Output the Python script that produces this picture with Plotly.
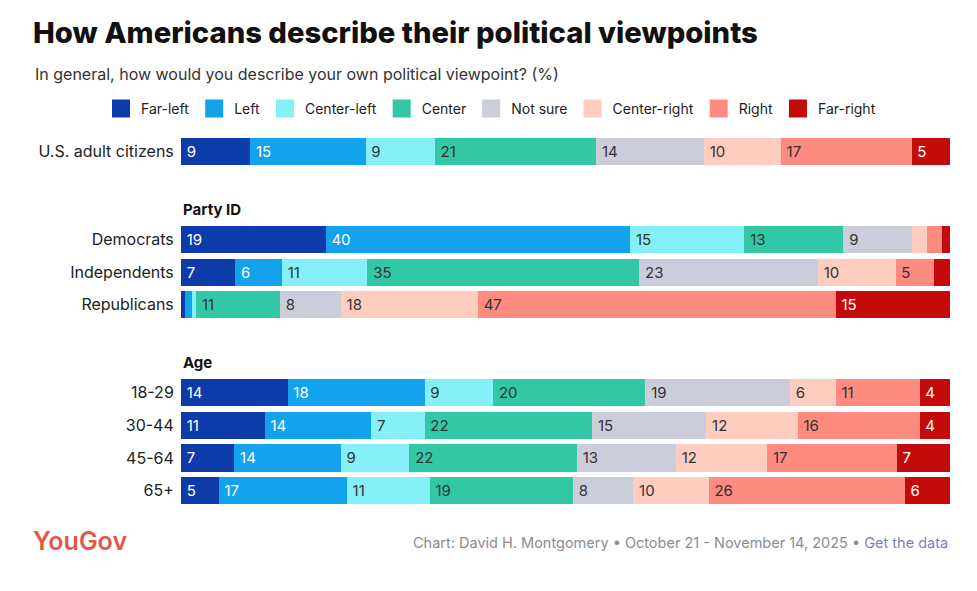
import plotly.graph_objects as go
from plotly.subplots import make_subplots

# ---- data ----
overall_rows = ["U.S. adult citizens"]
party_rows = ["Democrats", "Independents", "Republicans"]
age_rows = ["18-29", "30-44", "45-64", "65+"]
section_titles = ["", "Party ID", "Age"]

series_names = ["Far-left", "Left", "Center-left", "Center", "Not sure",
                "Center-right", "Right", "Far-right"]

# values in row order: overall, Democrats, Independents, Republicans, 18-29, 30-44, 45-64, 65+
far_left = [9, 19, 7, 0.5, 14, 11, 7, 5]
left = [15, 40, 6, 1, 18, 14, 14, 17]
center_left = [9, 15, 11, 0.5, 9, 7, 9, 11]
center = [21, 13, 35, 11, 20, 22, 22, 19]
not_sure = [14, 9, 23, 8, 19, 15, 13, 8]
center_right = [10, 2, 10, 18, 6, 12, 12, 10]
right = [17, 2, 5, 47, 11, 16, 17, 26]
far_right = [5, 1, 2, 15, 4, 4, 7, 6]

series_values = [far_left, left, center_left, center, not_sure,
                 center_right, right, far_right]

# ---- style ----
colors = ["#0d3caa", "#12a3ec", "#86f0f9", "#32c8a6", "#cbcdda",
          "#ffcdbf", "#fd8b80", "#c40b0b"]
text_colors = ["#ffffff", "#ffffff", "#333333", "#333333", "#333333",
               "#333333", "#333333", "#ffffff"]
FONT = "Inter"
W, H = 977, 591
ML, MR, MT, MB = 181, 27, 135, 84


def px2x(px):
    return (px - ML) / (W - ML - MR)


def px2y(py):
    return (H - MB - py) / (H - MT - MB)


sections = [overall_rows, party_rows, age_rows]
all_rows = overall_rows + party_rows + age_rows
totals = [sum(s[i] for s in series_values) for i in range(len(all_rows))]

fig = make_subplots(rows=3, cols=1)

offset = 0
for k, sec in enumerate(sections):
    idx = list(range(offset, offset + len(sec)))
    for j, name in enumerate(series_names):
        vals = [series_values[j][i] for i in idx]
        fig.add_trace(go.Bar(
            y=sec,
            x=[series_values[j][i] / totals[i] * 100 for i in idx],
            orientation="h",
            name=name,
            marker=dict(color=colors[j], line=dict(width=0)),
            text=[str(int(v)) if v >= 4 else "" for v in vals],
            texttemplate="\u2009%{text}",
            textposition="inside",
            insidetextanchor="start",
            textangle=0,
            constraintext="none",
            insidetextfont=dict(family=FONT, size=15, color=text_colors[j]),
            showlegend=False,
            hoverinfo="skip",
        ), row=k + 1, col=1)
    offset += len(sec)

# legend entries (larger square swatches)
for j, name in enumerate(series_names):
    fig.add_trace(go.Scatter(
        x=[None], y=[None], mode="markers", name=name,
        marker=dict(symbol="square", size=16, color=colors[j],
                    line=dict(color=colors[j], width=2)),
        hoverinfo="skip",
    ), row=1, col=1)

fig.update_xaxes(range=[0, 100], visible=False, fixedrange=True)
fig.update_yaxes(type="category", autorange="reversed", showgrid=False,
                 showline=False, zeroline=False, ticks="outside", ticklen=3,
                 tickcolor="rgba(0,0,0,0)", fixedrange=True,
                 tickfont=dict(family=FONT, size=16, color="#222222"))

fig.update_layout(
    yaxis=dict(domain=[0.9116, 1.0]),
    yaxis2=dict(domain=[0.5005, 0.7626]),
    yaxis3=dict(domain=[0.0, 0.3516]),
)

for k, t in enumerate(section_titles):
    if t:
        fig.add_annotation(
            text="<b>%s</b>" % t, xref="paper", x=0, xanchor="left",
            yref="y%d domain" % (k + 1), y=1, yanchor="middle", yshift=14,
            showarrow=False, font=dict(family=FONT, size=15, color="#111111"))

fig.add_annotation(
    text="In general, how would you describe your own political viewpoint? (%)",
    xref="paper", x=px2x(33), xanchor="left",
    yref="paper", y=px2y(74), yanchor="middle",
    showarrow=False, font=dict(family=FONT, size=16, color="#333333"))

fig.add_annotation(
    text="YouGov", xref="paper", x=px2x(31), xanchor="left",
    yref="paper", y=px2y(541), yanchor="middle",
    showarrow=False, font=dict(family=FONT, size=25, color="#e4584b", weight=600))

fig.add_annotation(
    text="Chart: David H. Montgomery • October 21 - November 14, 2025 • "
         "<span style='color:#7b7fc0'>Get the data</span>",
    xref="paper", x=1, xanchor="right",
    yref="paper", y=px2y(543), yanchor="middle",
    showarrow=False, font=dict(family=FONT, size=14.5, color="#8c8c8c"))

fig.update_layout(
    width=W, height=H,
    margin=dict(l=ML, r=MR, t=MT, b=MB),
    barmode="stack", bargap=0.17,
    paper_bgcolor="white", plot_bgcolor="white",
    font=dict(family=FONT, color="#222222"),
    title=dict(text="How Americans describe their political viewpoints",
               x=33 / W, xanchor="left", xref="container",
               y=1 - 33 / H, yanchor="middle", yref="container",
               font=dict(family=FONT, size=29.2, weight=800, color="#111111")),
    legend=dict(orientation="h", xref="paper", x=px2x(101), xanchor="left",
                yref="paper", y=px2y(109), yanchor="middle",
                font=dict(family=FONT, size=14, color="#222222"),
                itemclick=False, itemdoubleclick=False, traceorder="normal"),
    showlegend=True,
)

fig.write_html("out.html", config={"displayModeBar": False},
               post_script="document.body.style.margin='0';")
